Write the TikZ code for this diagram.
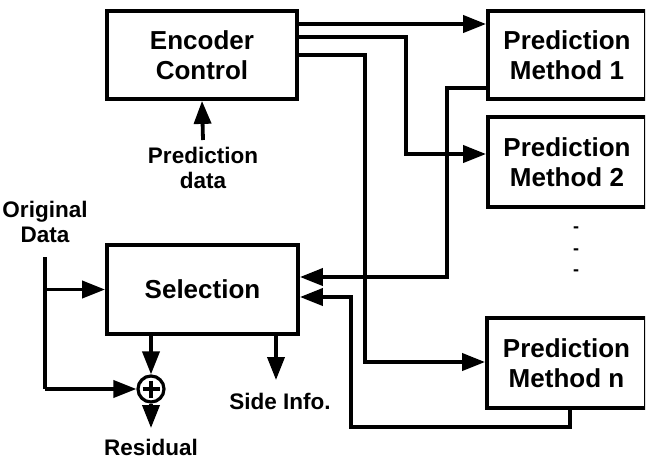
\documentclass[tikz,border=0pt]{standalone}
\usepackage{fontspec}
\setmainfont{Liberation Sans}
\usetikzlibrary{arrows.meta,calc}
\begin{document}
\begin{tikzpicture}[x=1pt,y=-1pt,
  box/.style={draw, line width=3.8pt, align=center, inner sep=0pt, font=\fontsize{26}{30}\selectfont\bfseries},
  lab/.style={align=center, inner sep=0pt, font=\fontsize{22.5}{25}\selectfont\bfseries},
  wire/.style={line width=3.8pt},
  arr/.style={wire, -{Triangle[length=23pt,width=17pt]}}]
\useasboundingbox (0,0) rectangle (649,459);
\clip (0,0) rectangle (645,459);
% boxes
\node[box, minimum width=190pt, minimum height=88pt] (enc) at (202,55) {Encoder\\Control};
\node[box, minimum width=158pt, minimum height=88pt] (p1) at (567,55) {Prediction\\Method 1};
\node[box, minimum width=158pt, minimum height=90pt] (p2) at (567,162) {Prediction\\Method 2};
\node[box, minimum width=159pt, minimum height=90pt] (pn) at (566.5,363) {Prediction\\Method n};
\node[box, minimum width=191pt, minimum height=89pt] (sel) at (202.5,289.5) {Selection};
% dots
\node[lab, font=\fontsize{18}{18}\selectfont\bfseries] (d1) at (576,230) {-};
\node[lab, font=\fontsize{18}{18}\selectfont\bfseries] (d2) at (576,252) {-};
\node[lab, font=\fontsize{18}{18}\selectfont\bfseries] (d3) at (576,273) {-};
% labels
\node[lab, anchor=north] (pd) at (203,147) {Prediction\\data};
\node[lab] (od) at (45,222) {Original\\Data};
\node[lab, anchor=north] (res) at (151,439) {Residual};
\node[lab, anchor=north] (side) at (280,393) {Side Info.};
% adder
\node[draw, circle, line width=3.2pt, minimum size=26pt, inner sep=0pt] (plus) at (151,389) {};
\draw[line width=3.2pt] ([yshift=8.5pt]plus.center) -- ([yshift=-8.5pt]plus.center);
\draw[line width=3.2pt] ([xshift=-8.5pt]plus.center) -- ([xshift=8.5pt]plus.center);
% coordinates
\coordinate (k2) at (406,154);
\coordinate (k3) at (365,362);
\coordinate (k4) at (447,277);
\coordinate (k5) at (570,427);
\coordinate (k6) at (351,297);
\coordinate (ot) at (45,257);
\coordinate (k7) at (45,389);
% encoder control outputs
\draw[arr] ([yshift=31pt]enc.east) -- ([yshift=31pt]enc.east -| p1.west);
\draw[arr] ([yshift=18pt]enc.east) -| (k2) -- (k2 -| p2.west);
\draw[arr] (enc.east) -| (k3) -- (k3 -| pn.west);
% prediction outputs to selection
\draw[arr] ([yshift=-33pt]p1.west) -| (k4) -- (k4 -| sel.east);
\draw[arr] (k5 |- pn.south) -- (k5) -| (k6) -- (k6 -| sel.east);
% prediction data
\draw[arr] ([yshift=7pt]pd.north) -- (enc.south);
% original data
\draw[wire] (ot) -- (k7);
\draw[arr] (k7) -- (plus.west);
\draw[arr] (sel.west -| ot) -- (sel.west);
% selection outputs
\draw[arr] (plus |- sel.south) -- (plus.north);
\draw[arr] (plus.south) -- ([yshift=11pt]res.north);
\draw[arr] ([xshift=-4pt]side.north |- sel.south) -- ([xshift=-4pt,yshift=13pt]side.north);
\end{tikzpicture}
\end{document}
